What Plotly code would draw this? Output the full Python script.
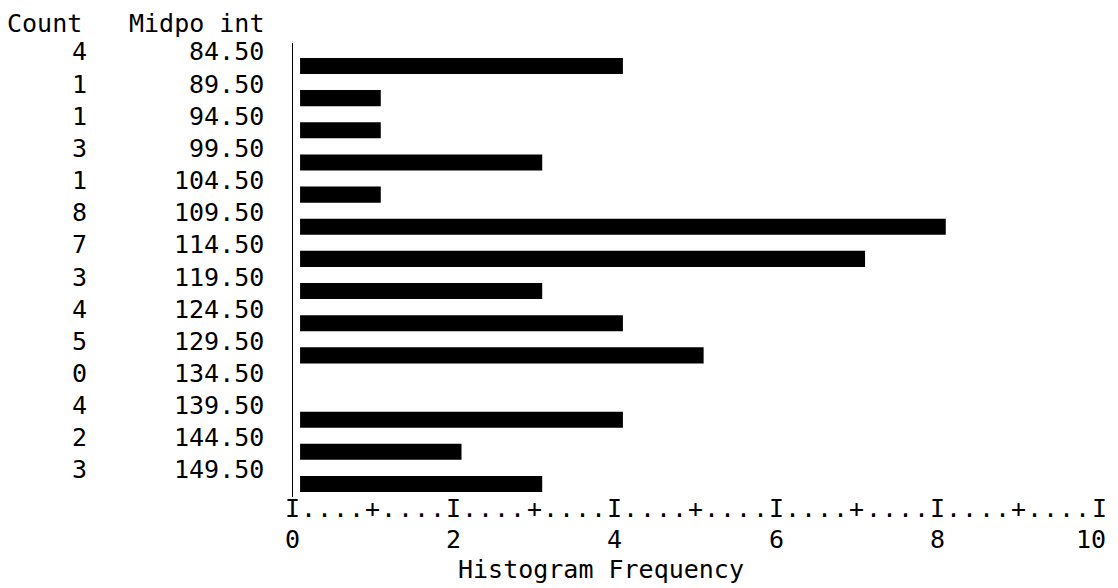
import plotly.graph_objects as go

# Data
midpoints = ["84.50", "89.50", "94.50", "99.50", "104.50", "109.50", "114.50",
             "119.50", "124.50", "129.50", "134.50", "139.50", "144.50", "149.50"]
counts = [4, 1, 1, 3, 1, 8, 7, 3, 4, 5, 0, 4, 2, 3]
tick_values = [0, 2, 4, 6, 8, 10]
tick_labels = ["0", "2", "4", "6", "8", "10"]

FONT = "DejaVu Sans Mono"
FS = 25
BLACK = "#000000"

fig = go.Figure()
fig.add_trace(go.Bar(
    y=midpoints, x=counts, base=0.1, orientation="h",
    width=0.5, marker=dict(color=BLACK, line=dict(width=0)),
    hoverinfo="skip", showlegend=False,
))

ann = []
txtfont = dict(family=FONT, size=FS, color=BLACK)
common = dict(showarrow=False, font=txtfont, borderpad=0)
# headers
ann.append(dict(text="Count", xref="paper", yref="paper", x=-0.2561, y=1.043,
                xanchor="right", yanchor="middle", **common))
ann.append(dict(text="Midpo int", xref="paper", yref="paper", x=-0.0331, y=1.043,
                xanchor="right", yanchor="middle", **common))
# rows (category index positions)
for i, (m, c) in enumerate(zip(midpoints, counts)):
    ann.append(dict(text=str(c), xref="paper", yref="y", x=-0.25, y=i, yshift=14,
                    xanchor="right", yanchor="middle", **common))
    ann.append(dict(text=m, xref="paper", yref="y", x=-0.0331, y=i, yshift=14,
                    xanchor="right", yanchor="middle", **common))
# text ruler
for i in range(51):
    pos = i * 0.2
    ch = "I" if i % 10 == 0 else ("+" if i % 5 == 0 else ".")
    ann.append(dict(text=ch, xref="x", yref="paper", x=pos, y=-0.0264,
                    xanchor="center", yanchor="middle", **common))
for v, lab in zip(tick_values, tick_labels):
    ann.append(dict(text=lab, xref="x", yref="paper", x=v, y=-0.0947,
                    xshift=(-8 if len(lab) > 1 else 0),
                    xanchor="center", yanchor="middle", **common))
ann.append(dict(text="Histogram Frequency", xref="x", yref="paper", x=3.83, y=-0.1586,
                xanchor="center", yanchor="middle", **common))

fig.update_layout(
    width=1110, height=580,
    margin=dict(l=284, r=10, t=35, b=91),
    paper_bgcolor="white", plot_bgcolor="white",
    annotations=ann,
    shapes=[dict(type="line", xref="x", yref="paper", x0=0, x1=0, y0=0, y1=1,
                 line=dict(color=BLACK, width=2))],
    xaxis=dict(range=[0, 10.11], showgrid=False, zeroline=False, showticklabels=False,
               showline=False, ticks=""),
    yaxis=dict(type="category", categoryorder="array", categoryarray=midpoints,
               range=[13.405, -0.715], showgrid=False, zeroline=False,
               showticklabels=False, showline=False, ticks=""),
    bargap=0.5,
)

fig.write_html("out.html")
